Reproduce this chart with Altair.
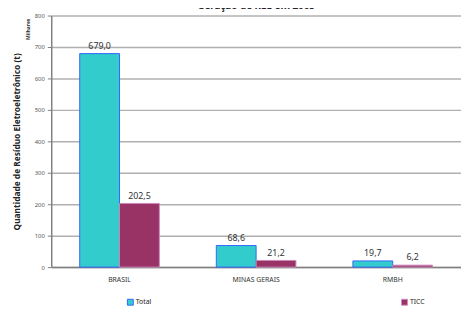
import altair as alt
import pandas as pd

regions = ["BRASIL", "MINAS GERAIS", "RMBH"]
total = [679.0, 68.6, 19.7]
ticc = [202.5, 21.2, 6.2]
series = ["Total", "TICC"]
y_ticks = [0, 100, 200, 300, 400, 500, 600, 700, 800]

rows = []
for r, t, c in zip(regions, total, ticc):
    rows.append({"region": r, "serie": "Total", "valor": t})
    rows.append({"region": r, "serie": "TICC", "valor": c})
df = pd.DataFrame(rows)
df["label"] = df["valor"].map(lambda v: f"{v:.1f}".replace(".", ","))

FONT = "Noto Sans"

x = alt.X("region:N", sort=regions,
          scale=alt.Scale(paddingInner=0.417, paddingOuter=0.2085),
          axis=alt.Axis(title=None, labelAngle=0, ticks=False, labelPadding=9,
                        labelFontSize=7, labelColor="#333333", labelFont=FONT,
                        domainColor="#808080", domainWidth=1.5))
xo = alt.XOffset("serie:N", sort=series, scale=alt.Scale(paddingInner=0, paddingOuter=0))
y = alt.Y("valor:Q", scale=alt.Scale(domain=[0, 800], nice=False),
          axis=alt.Axis(values=y_ticks, tickCount=9,
                        title="Quantidade de Resíduo Eletroeletrônico (t)",
                        titleFontSize=8.5, titleFont=FONT, titleFontWeight="bold",
                        titleColor="#222222", titlePadding=13,
                        labelFontSize=6, labelColor="#555555", labelFont=FONT,
                        labelOverlap=False, labelFlush=False,
                        tickSize=4, tickColor="#808080", labelPadding=3,
                        gridColor="#b0b0b0", gridWidth=1.5,
                        domainColor="#808080", domainWidth=1.5))

bars = alt.Chart(df).mark_bar(strokeWidth=1).encode(
    x=x, xOffset=xo, y=y,
    color=alt.Color("serie:N", sort=series,
                    scale=alt.Scale(domain=series, range=["#33CCCC", "#993366"]),
                    legend=alt.Legend(title=None, orient="none", direction="horizontal",
                                      legendX=77, legendY=288, columnPadding=252,
                                      symbolType="square", symbolSize=36,
                                      symbolStrokeWidth=1,
                                      labelFontSize=7, labelFont=FONT,
                                      labelColor="#222222", labelOffset=2)),
    stroke=alt.Stroke("serie:N", sort=series,
                      scale=alt.Scale(domain=series, range=["#3366FF", "#CC88BB"]),
                      legend=None),
)

labels = alt.Chart(df).mark_text(dy=-8, fontSize=9, font=FONT, color="#333333").encode(
    x=x, xOffset=xo, y=y, text="label:N"
)

milhares = alt.Chart(pd.DataFrame({"t": ["Milhares"]})).mark_text(
    angle=270, fontSize=5, font=FONT, fontWeight="bold", color="#333333"
).encode(x=alt.value(-24), y=alt.value(14), text="t:N")

chart = (bars + labels + milhares).properties(
    width=417, height=256,
    autosize=alt.AutoSizeParams(type="none"),
    padding={"left": 44, "top": 5, "right": 0, "bottom": 43},
    title=alt.TitleParams("Geração de REE em 2005", fontSize=10, font=FONT,
                          fontWeight="bold", offset=2, anchor="middle", color="#222222"),
).configure_view(stroke=None)

chart.save("out.html", embed_options={"renderer": "svg", "actions": False})
